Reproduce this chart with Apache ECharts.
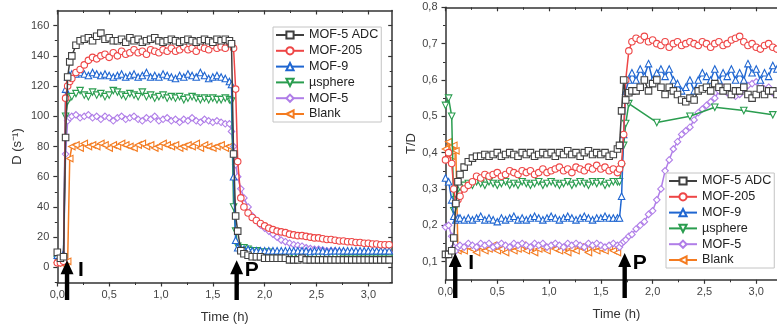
<!DOCTYPE html>
<html><head><meta charset="utf-8">
<script src="https://cdn.jsdelivr.net/npm/echarts@6/dist/echarts.min.js"></script>
<style>html,body{margin:0;padding:0;background:#fff}#c{width:777px;height:328px}</style>
</head><body><div id="c"></div>
<script>
// ---- data ----
const time = [0,0.03,0.06,0.08,0.10,0.12,
0.14,0.18,0.22,0.26,0.30,0.34,0.38,0.42,0.46,0.50,0.54,0.58,0.62,0.66,0.70,0.74,0.78,0.82,0.86,0.90,0.94,0.98,1.02,1.06,1.10,1.14,1.18,1.22,1.26,1.30,1.34,1.38,1.42,1.46,1.50,1.54,1.58,1.62,1.66,
1.68,1.70,1.72,1.74,1.77,
1.80,1.84,1.88,1.92,1.96,2.00,2.04,2.08,2.12,2.16,2.20,2.24,2.28,2.32,2.36,2.40,2.44,2.48,2.52,2.56,2.60,2.64,2.68,2.72,2.76,2.80,2.84,2.88,2.92,2.96,3.00,3.04,3.08,3.12,3.16,3.20];

const seriesNames = ['MOF-5 ADC','MOF-205','MOF-9','\u00B5sphere','MOF-5','Blank'];

// Left panel: D (s^-1)
const dADC = [10,6,7,86,126,136,
140,147,150,151,152,150,153,155,151,152,150,150,151,149,152,150,151,149,150,151,152,150,149,150,151,150,149,150,151,150,149,150,151,150,149,151,150,151,150,
148,75,34,24,11,
9,8,7,7,7,6,6,6,6,6,6,5,5,5,6,5,5,5,5,5,5,5,5,5,5,5,5,5,5,5,5,5,5,5,5,5];
const dM205 = [3,3,4,112,120,123,
125,129,131,134,137,139,138,140,141,139,142,140,143,141,142,144,142,143,141,144,143,142,144,143,145,143,144,146,144,145,143,146,145,144,147,145,146,145,149,
148,145,118,70,46,
40,36,33,31,29,27.5,26,25,24,23.5,23,22,21.5,21,21,20.5,20,19.5,19.5,19,18.5,18.5,18,17.5,17.5,17,17,16.5,16.5,16,16,15.5,15.5,15,15,15];
const dM9 = [8,7,9,118,126,127,
128,128,129,128,127,129,128,127,128,127,126,127,128,126,127,128,126,127,129,126,127,126,128,127,126,125,127,126,128,127,126,129,127,125,126,127,126,125,123,
121,60,18,13,12,
12,12,11,11,11,11,11,11,11,11,11,11,11,11,11,11,10.5,11,11,11,10.5,11,11,11,11,11,11,11,11,11,11,11,11,11,11,11];
const dMus = [5,5,6,100,110,112,
113,115,117,114,113,116,114,115,113,114,117,116,114,113,115,114,113,116,113,114,112,113,114,112,113,112,113,111,112,113,112,111,112,111,112,111,111,112,111,
110,40,24,14,13,
13,12,11,11,10,10,10,9,9,9,9,8,8,8,8,8,7,7,7,7,7,7,7,7,6,6,6,6,6,6,6,6,6,6,6,6];
const dM5 = [6,5,6,75,97,99,
100,101,99,100,101,99,100,98,100,99,97,99,100,98,99,100,98,97,99,98,100,97,98,99,97,98,96,98,97,99,97,96,98,97,96,97,96,95,95,
90,80,68,60,52,
46,40,34,31,28,26,24,22,20,18,17,16,15,14.5,14,13,12.5,12,12,11.5,11,11,11,10.5,10.5,10,10,10,10,10,10,9.5,10,9.5,10,10];
const dBlank = [3,3,3,3,4,72,
80,81,79,82,80,81,80,82,81,79,81,80,82,81,80,79,81,82,80,81,79,80,82,81,80,81,79,80,81,80,82,79,81,80,79,80,81,79,80];

// Right panel: T/D
const rADC = [0.12,0.12,0.13,0.165,0.26,0.32,
0.34,0.36,0.375,0.385,0.39,0.39,0.395,0.39,0.395,0.4,0.39,0.395,0.4,0.395,0.39,0.4,0.395,0.4,0.39,0.395,0.4,0.395,0.4,0.39,0.4,0.395,0.405,0.395,0.4,0.39,0.4,0.405,0.395,0.4,0.395,0.4,0.39,0.395,0.41,
0.42,0.515,0.6,0.545,0.565,
0.57,0.57,0.58,0.6,0.57,0.59,0.6,0.58,0.56,0.58,0.57,0.56,0.545,0.54,0.55,0.545,0.57,0.575,0.58,0.57,0.59,0.58,0.57,0.58,0.56,0.57,0.57,0.58,0.56,0.55,0.56,0.575,0.56,0.57,0.57,0.56];
const rM205 = [0.38,0.4,0.37,0.3,0.26,0.27,
0.28,0.3,0.31,0.32,0.335,0.33,0.34,0.335,0.34,0.345,0.335,0.34,0.35,0.345,0.34,0.35,0.345,0.35,0.34,0.345,0.355,0.345,0.35,0.355,0.36,0.35,0.355,0.345,0.36,0.355,0.35,0.36,0.355,0.365,0.355,0.36,0.35,0.355,0.345,
0.355,0.37,0.45,0.6,0.68,
0.705,0.715,0.71,0.72,0.705,0.71,0.7,0.695,0.705,0.69,0.7,0.705,0.695,0.7,0.705,0.7,0.695,0.705,0.7,0.69,0.7,0.705,0.695,0.7,0.71,0.715,0.72,0.705,0.695,0.7,0.69,0.685,0.695,0.7,0.69,0.685];
const rM9 = [0.33,0.32,0.27,0.225,0.215,0.22,
0.22,0.215,0.22,0.215,0.22,0.225,0.215,0.22,0.215,0.21,0.22,0.215,0.22,0.225,0.215,0.22,0.215,0.22,0.225,0.22,0.215,0.22,0.225,0.22,0.215,0.22,0.225,0.22,0.215,0.22,0.225,0.22,0.215,0.22,0.22,0.225,0.22,0.22,0.22,
0.22,0.28,0.45,0.57,0.6,
0.62,0.6,0.63,0.61,0.645,0.6,0.62,0.63,0.61,0.63,0.6,0.59,0.57,0.58,0.6,0.57,0.6,0.62,0.61,0.6,0.63,0.6,0.62,0.61,0.63,0.6,0.62,0.6,0.645,0.62,0.63,0.6,0.62,0.61,0.64,0.63];
const rMus = [0.53,0.55,0.5,0.24,0.27,0.3,
0.305,0.31,0.315,0.31,0.32,0.315,0.31,0.32,0.315,0.31,0.315,0.32,0.31,0.315,0.31,0.32,0.315,0.31,0.315,0.32,0.31,0.315,0.32,0.315,0.31,0.315,0.32,0.31,0.315,0.32,0.315,0.31,0.32,0.315,0.32,0.31,0.315,0.32,0.32,
0.32,0.36,0.42,0.48,0.535,
null,null,null,null,null,null,0.483,null,null,null,null,null,null,null,0.5,null,null,null,null,null,0.525,null,null,null,null,null,null,0.516,null,null,null,null,null,null,0.504,null];
const rM5 = [0.195,0.2,0.17,0.14,0.13,0.14,
0.145,0.14,0.15,0.145,0.14,0.15,0.145,0.15,0.14,0.145,0.15,0.145,0.14,0.15,0.145,0.15,0.145,0.14,0.15,0.145,0.15,0.14,0.145,0.15,0.145,0.14,0.15,0.145,0.15,0.145,0.14,0.15,0.145,0.15,0.145,0.14,0.145,0.15,0.145,
0.14,0.15,0.155,0.16,0.17,
0.175,0.19,0.2,0.21,0.23,0.24,0.27,0.3,0.35,0.38,0.41,0.43,0.45,0.46,0.47,0.49,0.51,0.52,0.53,0.54,0.55,0.57,0.58,0.565,0.56,0.555,0.56,0.575,0.585,0.59,0.595,0.59,0.575,0.58,0.565,0.56];
const rBlank = [0.41,0.43,0.39,0.42,0.405,0.13,
0.135,0.13,0.14,0.135,0.125,0.14,0.13,0.135,0.145,0.13,0.135,0.125,0.14,0.13,0.135,0.145,0.13,0.14,0.125,0.135,0.14,0.13,0.145,0.135,0.13,0.14,0.125,0.135,0.13,0.14,0.135,0.125,0.14,0.13,0.135,0.13,0.14,0.13,0.125];

const xTicks = [0,0.5,1.0,1.5,2.0,2.5,3.0];
const xMinorTicks = [0.25,0.75,1.25,1.75,2.25,2.75,3.25];
const dTicks = [0,20,40,60,80,100,120,140,160];
const dMinorTicks = [-10,10,30,50,70,90,110,130,150];
const tdTicks = [0.1,0.2,0.3,0.4,0.5,0.6,0.7,0.8];
const tdMinorTicks = [0.15,0.25,0.35,0.45,0.55,0.65,0.75];
const arrowTimes = [0.094, 1.73];
const arrowLetters = ['I','P'];

// ---- styling ----
const colors = ['#404040','#ee4646','#1f66d1','#2a9d4f','#b07ee8','#f47b20'];
const symbols = ['rect','circle','triangle','triangle','diamond','triangle'];
const rotates = [0,0,0,180,0,90];
const FONT = '"Liberation Sans", Arial, sans-serif';
const AX = '#333';

function fmt(v){ return v.toFixed(1).replace('.', ','); }
function fmtInt(v){ return String(Math.round(v)); }

function xAxes(g, xmax) {
  const base = {gridIndex:g, type:'value', min:0, max:xmax, splitLine:{show:false}};
  return [
    Object.assign({}, base, {position:'bottom',
      axisLine:{onZero:false, lineStyle:{color:AX, width:1.5}},
      axisTick:{customValues:xTicks, length:4, lineStyle:{color:AX, width:1.2}},
      axisLabel:{customValues:xTicks, formatter:fmt, fontSize:11, color:'#444', margin:7, fontFamily:FONT},
      name:'Time (h)', nameLocation:'middle', nameGap:28,
      nameTextStyle:{fontSize:13, color:'#333', fontFamily:FONT}}),
    Object.assign({}, base, {position:'bottom',
      axisLine:{show:false, onZero:false},
      axisTick:{customValues:xMinorTicks, length:2.5, lineStyle:{color:AX, width:1}},
      axisLabel:{show:false}}),
    Object.assign({}, base, {position:'top',
      axisLine:{onZero:false, lineStyle:{color:AX, width:1.5}},
      axisTick:{inside:true, customValues:xTicks, length:4, lineStyle:{color:AX, width:1.2}},
      axisLabel:{show:false}}),
    Object.assign({}, base, {position:'top',
      axisLine:{show:false, onZero:false},
      axisTick:{inside:true, customValues:xMinorTicks, length:2.5, lineStyle:{color:AX, width:1}},
      axisLabel:{show:false}})
  ];
}
function yAxes(g, ymin, ymax, maj, minr, f, name, gap, right) {
  const base = {gridIndex:g, type:'value', min:ymin, max:ymax, splitLine:{show:false}};
  const arr = [
    Object.assign({}, base, {position:'left',
      axisLine:{show:true, onZero:false, lineStyle:{color:AX, width:1.5}},
      axisTick:{show:true, customValues:maj, length:4, lineStyle:{color:AX, width:1.2}},
      axisLabel:{customValues:maj, formatter:f, fontSize:11, color:'#444', margin:8, fontFamily:FONT},
      name:name, nameLocation:'middle', nameGap:gap,
      nameTextStyle:{fontSize:13, color:'#333', fontFamily:FONT}}),
    Object.assign({}, base, {position:'left',
      axisLine:{show:false, onZero:false},
      axisTick:{show:true, customValues:minr, length:2.5, lineStyle:{color:AX, width:1}},
      axisLabel:{show:false}})
  ];
  if (right) {
    arr.push(Object.assign({}, base, {position:'right',
      axisLine:{show:true, onZero:false, lineStyle:{color:AX, width:1.5}},
      axisTick:{show:true, inside:true, customValues:maj, length:4, lineStyle:{color:AX, width:1.2}},
      axisLabel:{show:false}}));
    arr.push(Object.assign({}, base, {position:'right',
      axisLine:{show:false, onZero:false},
      axisTick:{show:true, inside:true, customValues:minr, length:2.5, lineStyle:{color:AX, width:1}},
      axisLabel:{show:false}}));
  }
  return arr;
}

function pairs(vals){ return time.map((t,i)=>[t, (vals[i]===undefined || vals[i]===null) ? null : vals[i]]); }

function mkSeries(vals, k, xi, yi){
  return {
    name: seriesNames[k], type:'line', xAxisIndex:xi, yAxisIndex:yi,
    data: pairs(vals), connectNulls: true,
    symbol: symbols[k], symbolRotate: rotates[k], symbolSize: 6.5,
    lineStyle:{color:colors[k], width:1.5},
    itemStyle:{color:'#fff', borderColor:colors[k], borderWidth:1.1},
    emphasis:{disabled:true}, animation:false, z: 2 + (5-k)*0.1
  };
}

const leftVals = [dADC,dM205,dM9,dMus,dM5,dBlank];
const rightVals = [rADC,rM205,rM9,rMus,rM5,rBlank];
const series = [];
leftVals.forEach((v,k)=>series.push(mkSeries(v,k,0,0)));
rightVals.forEach((v,k)=>series.push(mkSeries(v,k,4,4)));

function legendAt(left, top){
  return {
    orient:'vertical', left:left, top:top, data:seriesNames,
    itemWidth:28, itemHeight:9, itemGap:1.8, padding:[1,3,1,2],
    borderColor:'#c4c4c4', borderWidth:1, backgroundColor:'#fff',
    textStyle:{fontSize:12.6, color:'#222', lineHeight:14, fontFamily:FONT},
    selectedMode:false
  };
}

const chart = echarts.init(document.getElementById('c'), null, {renderer:'canvas'});
chart.setOption({
  animation:false,
  backgroundColor:'#fff',
  textStyle:{fontFamily:FONT},
  grid:[
    {left:57.3, top:10.5, width:334.9, height:272, outerBoundsMode:'none'},
    {left:445.5, top:7.3, width:341.8, height:272.5, outerBoundsMode:'none'}
  ],
  xAxis:[].concat(xAxes(0,3.23), xAxes(1,3.3)),
  yAxis:[].concat(
    yAxes(0,-10,170,dTicks,dMinorTicks,fmtInt,'D (s\u207B\u00B9)',33,true),
    yAxes(1,0.05,0.8,tdTicks,tdMinorTicks,fmt,'T/D',28,false)
  ),
  legend:[legendAt(273,27), legendAt(666,173)],
  series:series
});

// annotation arrows (I = injection, P = purge) placed through the axes
function arrowShape(px, tipY, botY){
  return {type:'polygon', z:100, silent:true,
    shape:{points:[[px,tipY],[px+6.5,tipY+14],[px+2.2,tipY+14],[px+2.2,botY],[px-2.2,botY],[px-2.2,tipY+14],[px-6.5,tipY+14]]},
    style:{fill:'#000'}};
}
function letter(txt, x, y){
  return {type:'text', z:100, silent:true,
    style:{text:txt, x:x, y:y, fill:'#000', font:'bold 21px ' + FONT, align:'left', verticalAlign:'middle'}};
}
const g = [];
const panels = [{xi:0, yi:0, tipV:4.8, bot:300, dI:11}, {xi:4, yi:4, tipV:0.124, bot:298, dI:13}];
panels.forEach(p=>{
  arrowTimes.forEach((t,i)=>{
    const px = chart.convertToPixel({xAxisIndex:p.xi}, t);
    const tipY = chart.convertToPixel({yAxisIndex:p.yi}, p.tipV);
    g.push(arrowShape(px, tipY, p.bot));
    g.push(letter(arrowLetters[i], px + (i===0 ? p.dI : 8), tipY + 10));
  });
});
chart.setOption({graphic:g});
</script>
</body></html>
